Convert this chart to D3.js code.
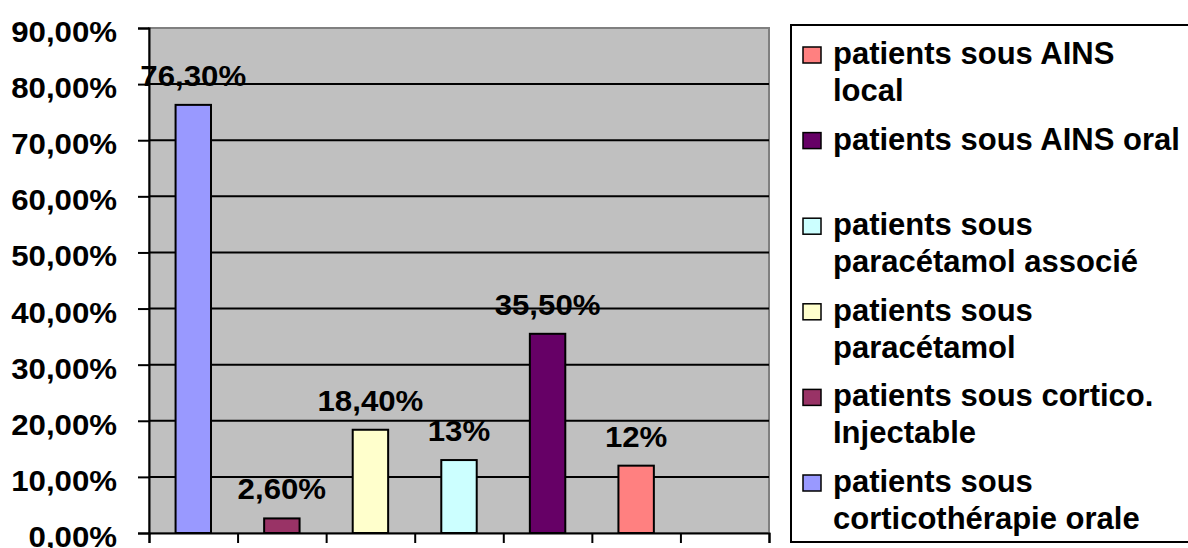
<!DOCTYPE html>
<html>
<head>
<meta charset="utf-8">
<script src="https://cdn.jsdelivr.net/npm/d3@7"></script>
<style>
  html, body { margin: 0; padding: 0; background: #ffffff; }
  svg { display: block; }
  text { font-family: "Liberation Sans", Arial, sans-serif; font-weight: bold; fill: #000; }
</style>
</head>
<body>
<svg id="chart" width="1188" height="548"></svg>
<script>
// Share of patients per treatment type
const categories = [
  "patients sous corticothérapie orale",
  "patients sous cortico. Injectable",
  "patients sous paracétamol",
  "patients sous paracétamol associé",
  "patients sous AINS oral",
  "patients sous AINS local"
];
const values = [76.3, 2.6, 18.4, 13, 35.5, 12];
const valueLabels = ["76,30%", "2,60%", "18,40%", "13%", "35,50%", "12%"];
const barColors = ["#9999FF", "#993366", "#FFFFCC", "#CCFFFF", "#660066", "#FF8080"];
const yTicks = [0, 10, 20, 30, 40, 50, 60, 70, 80, 90];
const slotCount = 7;

// Legend entries, listed in reverse series order, with their wrapped lines
const legendLines = [
  ["patients sous AINS", "local"],
  ["patients sous AINS oral"],
  ["patients sous", "paracétamol associé"],
  ["patients sous", "paracétamol"],
  ["patients sous cortico.", "Injectable"],
  ["patients sous", "corticothérapie orale"]
];
const legendColors = barColors.slice().reverse();

const svg = d3.select("#chart");
const plot = { left: 149, right: 769, top: 28, bottom: 533 };

const x = d3.scaleLinear().domain([0, slotCount]).range([plot.left, plot.right]);
const y = d3.scaleLinear().domain([0, 90]).range([plot.bottom, plot.top]);

// Slightly widened bold text for axis and value labels
function stretch(sel, k) {
  sel.each(function () {
    const w = this.getComputedTextLength();
    this.setAttribute("textLength", w * k);
    this.setAttribute("lengthAdjust", "spacingAndGlyphs");
  });
}

// Plot background
svg.append("rect")
  .attr("x", plot.left).attr("y", plot.top)
  .attr("width", plot.right - plot.left).attr("height", plot.bottom - plot.top)
  .attr("fill", "#C0C0C0")
  .attr("stroke", "#808080").attr("stroke-width", 2);

// Horizontal gridlines
svg.append("g").selectAll("line")
  .data(yTicks.filter(t => t > 0 && t < 90))
  .join("line")
  .attr("x1", plot.left).attr("x2", plot.right)
  .attr("y1", d => y(d)).attr("y2", d => y(d))
  .attr("stroke", "#000").attr("stroke-width", 2);

// Bars
svg.append("g").selectAll("rect")
  .data(values)
  .join("rect")
  .attr("x", (d, i) => x(i + 0.3))
  .attr("width", x(0.4) - x(0))
  .attr("y", d => y(d))
  .attr("height", d => y(0) - y(d))
  .attr("fill", (d, i) => barColors[i])
  .attr("stroke", "#000").attr("stroke-width", 2);

// Y axis
const fmt = v => d3.format(".2f")(v).replace(".", ",") + "%";
const yAxis = svg.append("g")
  .attr("transform", `translate(${plot.left},0)`)
  .call(d3.axisLeft(y).tickValues(yTicks).tickSize(11).tickPadding(21).tickFormat(fmt));
yAxis.select(".domain").attr("stroke", "#000").attr("stroke-width", 2);
yAxis.selectAll(".tick line").attr("stroke", "#000").attr("stroke-width", 2);
yAxis.selectAll(".tick text")
  .attr("font-size", 30).attr("dy", "0.45em")
  .style("font-family", "'Liberation Sans', Arial, sans-serif").style("font-weight", "bold")
  .call(stretch, 1.04);

// X axis (category slots, no labels)
const xAxis = svg.append("g")
  .attr("transform", `translate(0,${plot.bottom})`)
  .call(d3.axisBottom(x).tickValues(d3.range(slotCount + 1)).tickSize(10).tickFormat(""));
xAxis.select(".domain").attr("stroke", "#000").attr("stroke-width", 2);
xAxis.selectAll(".tick line").attr("stroke", "#000").attr("stroke-width", 2);

// Value labels above bars
svg.append("g").selectAll("text")
  .data(values)
  .join("text")
  .attr("x", (d, i) => x(i + 0.5))
  .attr("y", d => y(d) - 19)
  .attr("text-anchor", "middle")
  .attr("font-size", 30)
  .text((d, i) => valueLabels[i])
  .call(stretch, 1.04);

// Legend
const legend = svg.append("g");
legend.append("rect")
  .attr("x", 791).attr("y", 25).attr("width", 420).attr("height", 517)
  .attr("fill", "#fff").attr("stroke", "#000").attr("stroke-width", 2);

const entryStep = 85.6, firstBaseline = 64, lineGap = 37;
const entries = legend.selectAll("g.entry")
  .data(legendLines)
  .join("g").attr("class", "entry")
  .attr("transform", (d, i) => `translate(0,${firstBaseline + i * entryStep})`);
entries.append("rect")
  .attr("x", 803).attr("y", -17).attr("width", 18).attr("height", 16)
  .attr("fill", (d, i) => legendColors[i])
  .attr("stroke", "#000").attr("stroke-width", 1.5);
entries.append("text")
  .attr("x", 833).attr("y", 0)
  .attr("font-size", 31)
  .selectAll("tspan")
  .data(d => d)
  .join("tspan")
  .attr("x", 833)
  .attr("dy", (d, i) => i === 0 ? 0 : lineGap)
  .text(d => d);
</script>
</body>
</html>
